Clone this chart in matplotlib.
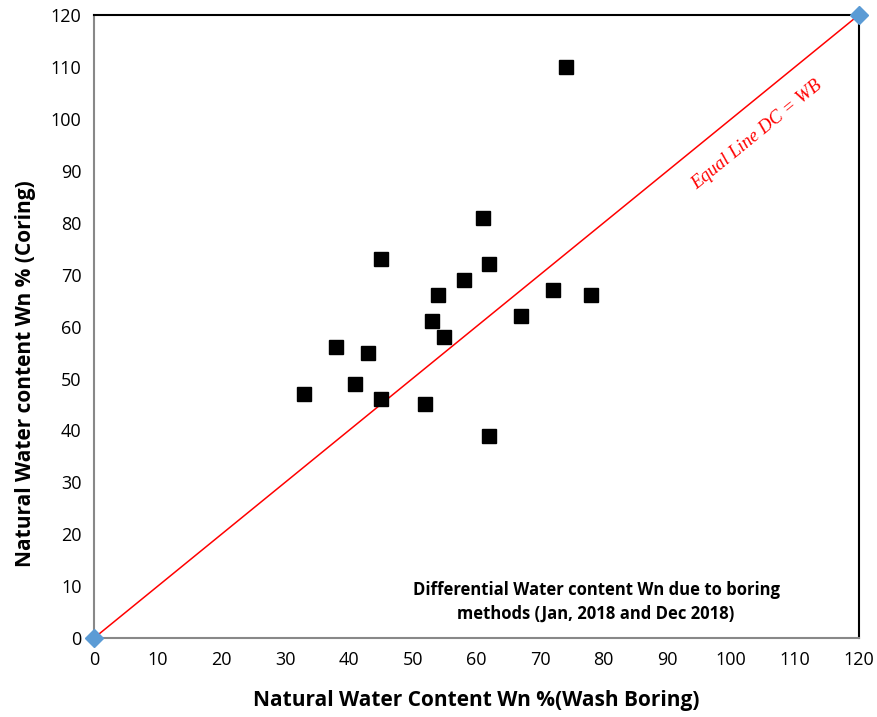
import matplotlib
matplotlib.use("Agg")
import matplotlib.pyplot as plt

wash_boring = [33, 38, 41, 43, 45, 45, 52, 53, 54, 55, 58, 61, 62, 62, 67, 72, 74, 78]
coring      = [47, 56, 49, 55, 73, 46, 45, 61, 66, 58, 69, 81, 72, 39, 62, 67, 110, 66]
equal_x = [0, 120]
equal_y = [0, 120]
ticks = list(range(0, 121, 10))

plt.rcParams['font.family'] = ['Open Sans', 'DejaVu Sans']

fig = plt.figure(figsize=(8.78, 7.17), dpi=100)
ax = fig.add_axes([0.107, 0.110, 0.871, 0.869])

ax.plot(equal_x, equal_y, color='red', lw=1.1, zorder=2)
ax.plot(equal_x, equal_y, linestyle='none', marker='D', markersize=9,
        color='#5B9BD5', clip_on=False, zorder=4)
ax.plot(wash_boring, coring, linestyle='none', marker='s', markersize=9.5,
        color='black', zorder=3)

ax.set_xlim(0, 120)
ax.set_ylim(0, 120)
ax.set_xticks(ticks)
ax.set_yticks(ticks)
ax.tick_params(length=0, labelsize=13, pad=9)

for s in ['left', 'bottom']:
    ax.spines[s].set_color('#888888')
    ax.spines[s].set_linewidth(1.5)
for s in ['top', 'right']:
    ax.spines[s].set_color('black')
    ax.spines[s].set_linewidth(1.5)

ax.set_xlabel('Natural Water Content Wn %(Wash Boring)', fontsize=15,
              fontweight='bold')
ax.set_ylabel('Natural Water content Wn % (Coring)', fontsize=15,
              fontweight='bold')
ax.xaxis.set_label_coords(0.5, -0.084)
ax.yaxis.set_label_coords(-0.076, 0.424)

ax.text(104, 97, 'Equal Line DC = WB', color='red', fontsize=13.5,
        fontstyle='italic', family='Liberation Serif', rotation=39.2,
        rotation_mode='anchor', ha='center', va='center')

ax.text(78.8, 7, 'Differential Water content Wn due to boring\nmethods (Jan, 2018 and Dec 2018)',
        fontsize=12, fontweight='bold', ha='center', va='center', linespacing=1.45)

fig.savefig('out.png', dpi=100)
